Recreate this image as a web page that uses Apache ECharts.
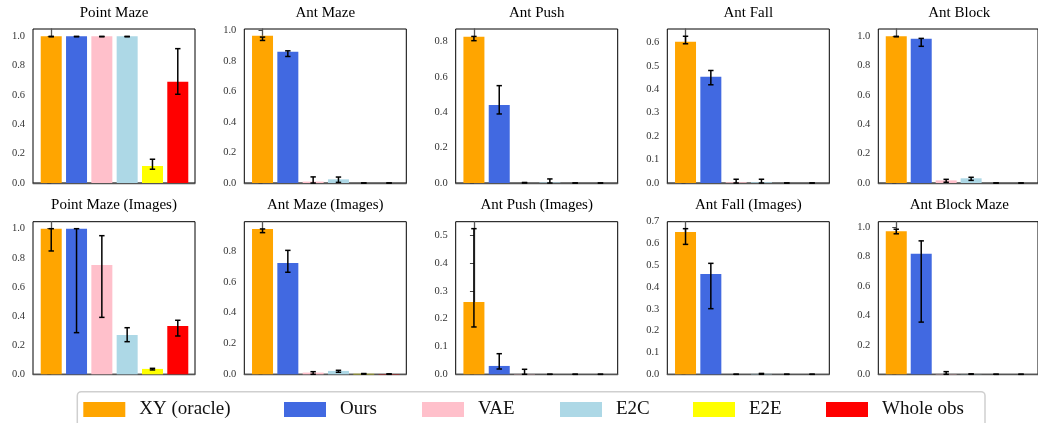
<!DOCTYPE html>
<html><head><meta charset="utf-8">
<script src="https://cdn.jsdelivr.net/npm/echarts@6/dist/echarts.min.js"></script>
<style>html,body{margin:0;padding:0;background:#fff}#c{width:1038px;height:423px}</style>
</head><body><div id="c"></div>
<script>
// ---------- data ----------
const methods = ['XY (oracle)', 'Ours', 'VAE', 'E2C', 'E2E', 'Whole obs'];
const titles = ['Point Maze', 'Ant Maze', 'Ant Push', 'Ant Fall', 'Ant Block',
  'Point Maze (Images)', 'Ant Maze (Images)', 'Ant Push (Images)', 'Ant Fall (Images)', 'Ant Block Maze'];

const pointMazeMean = [1.0, 1.0, 1.0, 1.0, 0.116, 0.69];
const pointMazeLow  = [0.997, 0.997, 0.997, 0.997, 0.094, 0.605];
const pointMazeHigh = [1.0, 1.0, 1.0, 1.0, 0.162, 0.916];

const antMazeMean = [0.965, 0.86, 0.009, 0.024, 0.0, 0.0];
const antMazeLow  = [0.934, 0.829, 0.0, 0.004, 0.0, 0.0];
const antMazeHigh = [0.956, 0.866, 0.04, 0.039, 0.0, 0.0];

const antPushMean = [0.826, 0.44, 0.0, 0.003, 0.0, 0.0];
const antPushLow  = [0.804, 0.39, 0.0, 0.0, 0.0, 0.0];
const antPushHigh = [0.828, 0.55, 0.003, 0.023, 0.0, 0.0];

const antFallMean = [0.603, 0.453, 0.003, 0.003, 0.0, 0.0];
const antFallLow  = [0.594, 0.419, 0.0, 0.0, 0.0, 0.0];
const antFallHigh = [0.626, 0.48, 0.016, 0.016, 0.0, 0.0];

const antBlockMean = [1.0, 0.984, 0.018, 0.032, 0.0, 0.0];
const antBlockLow  = [0.997, 0.932, 0.005, 0.018, 0.0, 0.0];
const antBlockHigh = [1.0, 0.986, 0.025, 0.039, 0.0, 0.0];

const pointMazeImgMean = [1.0, 1.0, 0.75, 0.27, 0.037, 0.332];
const pointMazeImgLow  = [0.847, 0.286, 0.391, 0.224, 0.03, 0.263];
const pointMazeImgHigh = [1.0, 1.0, 0.952, 0.32, 0.041, 0.371];

const antMazeImgMean = [0.943, 0.722, 0.011, 0.022, 0.003, 0.002];
const antMazeImgLow  = [0.919, 0.662, 0.0, 0.013, 0.001, 0.0];
const antMazeImgHigh = [0.943, 0.804, 0.017, 0.026, 0.005, 0.003];

const antPushImgMean = [0.26, 0.03, 0.001, 0.0, 0.0, 0.0];
const antPushImgLow  = [0.17, 0.019, 0.0, 0.0, 0.0, 0.0];
const antPushImgHigh = [0.523, 0.074, 0.018, 0.0, 0.0, 0.0];

const antFallImgMean = [0.653, 0.46, 0.0, 0.002, 0.0, 0.0];
const antFallImgLow  = [0.596, 0.301, 0.0, 0.0, 0.0, 0.0];
const antFallImgHigh = [0.668, 0.509, 0.0, 0.004, 0.0, 0.0];

const antBlockMazeMean = [0.971, 0.817, 0.002, 0.001, 0.0, 0.0];
const antBlockMazeLow  = [0.953, 0.354, 0.0, 0.0, 0.0, 0.0];
const antBlockMazeHigh = [0.984, 0.905, 0.018, 0.003, 0.0, 0.0];

const ticks02to10 = [0, 0.2, 0.4, 0.6, 0.8, 1.0];
const ticks02to08 = [0, 0.2, 0.4, 0.6, 0.8];
const ticks01to06 = [0, 0.1, 0.2, 0.3, 0.4, 0.5, 0.6];
const ticks01to05 = [0, 0.1, 0.2, 0.3, 0.4, 0.5];
const ticks01to07 = [0, 0.1, 0.2, 0.3, 0.4, 0.5, 0.6, 0.7];

const yMaxes = [1.05, 1.009, 0.87, 0.657, 1.05, 1.048, 0.99, 0.548, 0.70, 1.035];

// ---------- assembly ----------
const panels = [
  [pointMazeMean, pointMazeLow, pointMazeHigh, ticks02to10],
  [antMazeMean, antMazeLow, antMazeHigh, ticks02to10],
  [antPushMean, antPushLow, antPushHigh, ticks02to08],
  [antFallMean, antFallLow, antFallHigh, ticks01to06],
  [antBlockMean, antBlockLow, antBlockHigh, ticks02to10],
  [pointMazeImgMean, pointMazeImgLow, pointMazeImgHigh, ticks02to10],
  [antMazeImgMean, antMazeImgLow, antMazeImgHigh, ticks02to08],
  [antPushImgMean, antPushImgLow, antPushImgHigh, ticks01to05],
  [antFallImgMean, antFallImgLow, antFallImgHigh, ticks01to07],
  [antBlockMazeMean, antBlockMazeLow, antBlockMazeHigh, ticks02to10]
];
const colors = ['#FFA500', '#4169E1', '#FFC0CB', '#ADD8E6', '#FFFF00', '#FF0000'];

const colLeft = [33, 244.3, 455.7, 667.3, 878.3];
const rowTop = [29, 221.7];
const rowH = [154, 152.6];
const gridW = 162;
const FONT = "'Liberation Serif', 'DejaVu Serif', serif";

const grid = [], xAxis = [], yAxis = [], series = [], graphic = [];

panels.forEach((p, k) => {
  const r = Math.floor(k / 5), c = k % 5;
  const [mean, low, high, tks] = p;
  grid.push({left: colLeft[c], top: rowTop[r], width: gridW, height: rowH[r],
    show: true, borderColor: '#000', borderWidth: 1, backgroundColor: 'transparent'});
  xAxis.push({type: 'value', gridIndex: k, min: -0.72, max: 5.68,
    axisLine: {show: true, onZero: false, lineStyle: {color: '#555', width: 1.3}},
    axisTick: {show: false}, axisLabel: {show: false}, splitLine: {show: false}});
  yAxis.push({type: 'value', gridIndex: k, min: 0, max: yMaxes[k],
    axisLine: {show: true, lineStyle: {color: '#555', width: 1.3}},
    axisTick: {show: true, length: 4, customValues: tks, lineStyle: {color: '#444'}},
    axisLabel: {show: true, customValues: tks, margin: 8, fontFamily: FONT, fontSize: 10.5, color: '#333',
      formatter: v => Number(v).toFixed(1)},
    splitLine: {show: false}});
  series.push({type: 'bar', xAxisIndex: k, yAxisIndex: k, barWidth: 21,
    data: mean.map((v, i) => ({value: [i, v], itemStyle: {color: colors[i]}})),
    silent: true, animation: false});
  series.push({type: 'custom', xAxisIndex: k, yAxisIndex: k, z: 5, animation: false, silent: true,
    encode: {x: 0, y: [1, 2]},
    data: low.map((l, i) => [i, l, high[i]]),
    renderItem: (params, api) => {
      const x = api.value(0);
      const a = api.coord([x, api.value(1)]);
      const b = api.coord([x, api.value(2)]);
      const cw = 2.7, st = {stroke: '#000', lineWidth: 1.5};
      return {type: 'group', children: [
        {type: 'line', shape: {x1: a[0], y1: a[1], x2: b[0], y2: b[1]}, style: st},
        {type: 'line', shape: {x1: a[0] - cw, y1: a[1], x2: a[0] + cw, y2: a[1]}, style: st},
        {type: 'line', shape: {x1: b[0] - cw, y1: b[1], x2: b[0] + cw, y2: b[1]}, style: st}
      ]};
    }});
  graphic.push({type: 'text', x: colLeft[c] + gridW / 2, y: r === 0 ? 13 : 205,
    style: {text: titles[k], textAlign: 'center', textVerticalAlign: 'middle',
      font: "15px " + FONT, fill: '#000'}});
});

// hidden grid for legend-only series
grid.push({left: -500, top: -500, width: 10, height: 10});
xAxis.push({type: 'value', gridIndex: 10, show: false});
yAxis.push({type: 'value', gridIndex: 10, show: false});
methods.forEach((m, i) => {
  series.push({type: 'bar', name: m, xAxisIndex: 10, yAxisIndex: 10, data: [], itemStyle: {color: colors[i]}});
});

const swatchLeft = [83.3, 284, 422, 560, 693, 826];
const legend = methods.map((m, i) => ({
  left: swatchLeft[i], top: 400, padding: 0, itemWidth: 42, itemHeight: 15,
  icon: 'rect', selectedMode: false, data: [m],
  textStyle: {fontFamily: FONT, fontSize: 19, color: '#111', padding: [0, 0, 0, 9]}
}));

graphic.push({type: 'rect', shape: {x: 77.3, y: 391.7, width: 907.7, height: 50, r: 4},
  style: {fill: 'none', stroke: '#cfcfcf', lineWidth: 1.5}, z: -1});

const chart = echarts.init(document.getElementById('c'), null, {renderer: 'canvas'});
chart.setOption({animation: false, grid, xAxis, yAxis, series, legend, graphic});
</script></body></html>
